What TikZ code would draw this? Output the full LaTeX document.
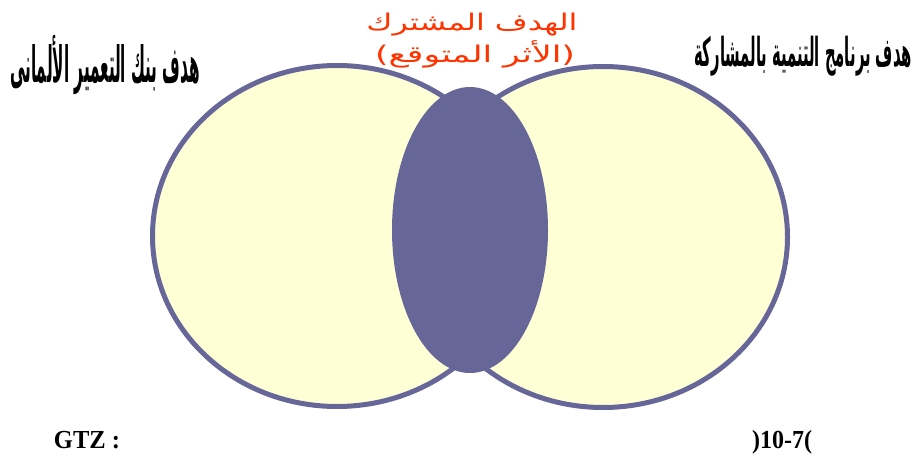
\documentclass[tikz,border=0pt]{standalone}
\usepackage{fontspec}
\usepackage{graphicx}
\setmainfont{Liberation Serif}
\TeXXeTstate=1
\newfontfamily\arabicfont[Script=Arabic]{DejaVu Sans}
\usetikzlibrary{shapes.geometric}
\definecolor{ringblue}{RGB}{102,102,153}
\definecolor{paleyellow}{RGB}{255,255,214}
\definecolor{redtext}{RGB}{255,51,0}
\tikzset{
  ring/.style={ellipse, draw=ringblue, fill=paleyellow, line width=5pt, inner sep=0pt,
    minimum width=369pt, minimum height=341pt},
  core/.style={ellipse, fill=ringblue, inner sep=0pt, minimum width=156pt, minimum height=286pt},
  blacklabel/.style={inner sep=0pt, anchor=base, text=black},
  redlabel/.style={inner sep=0pt, anchor=base, text=redtext},
  foot/.style={inner sep=0pt, anchor=base, font=\fontsize{26}{26}\selectfont\bfseries}
}
\begin{document}
\begin{tikzpicture}[x=1pt,y=-1pt]
\useasboundingbox (0,0) rectangle (918,455);
\node[ring] (left) at (337,236) {};
\node[ring] (right) at (603,237) {};
\node[core] (mid) at (470,230) {};
\node[blacklabel] (lt) at (105,82) {\resizebox{190pt}{\height}{\arabicfont\bfseries\fontsize{50}{50}\selectfont\beginR هدف بنك التعمير الألمانى\endR}};
\node[blacklabel] (rt) at (803,66) {\resizebox{218pt}{\height}{\arabicfont\bfseries\fontsize{40}{40}\selectfont\beginR هدف برنامج التنمية بالمشاركة\endR}};
\node[redlabel] (r1) at (472,30) {\resizebox{211pt}{\height}{\arabicfont\fontsize{23}{23}\selectfont\beginR الهدف المشترك\endR}};
\node[redlabel] (r2) at (475,63) {\resizebox{200pt}{\height}{\arabicfont\fontsize{23}{23}\selectfont\beginR (الأثر المتوقع)\endR}};
\node[foot] (gtz) at (87,448) {\resizebox{66pt}{\height}{GTZ :}};
\node[foot] (num) at (782,448) {\resizebox{60pt}{\height}{)10-7(}};
\end{tikzpicture}
\end{document}
